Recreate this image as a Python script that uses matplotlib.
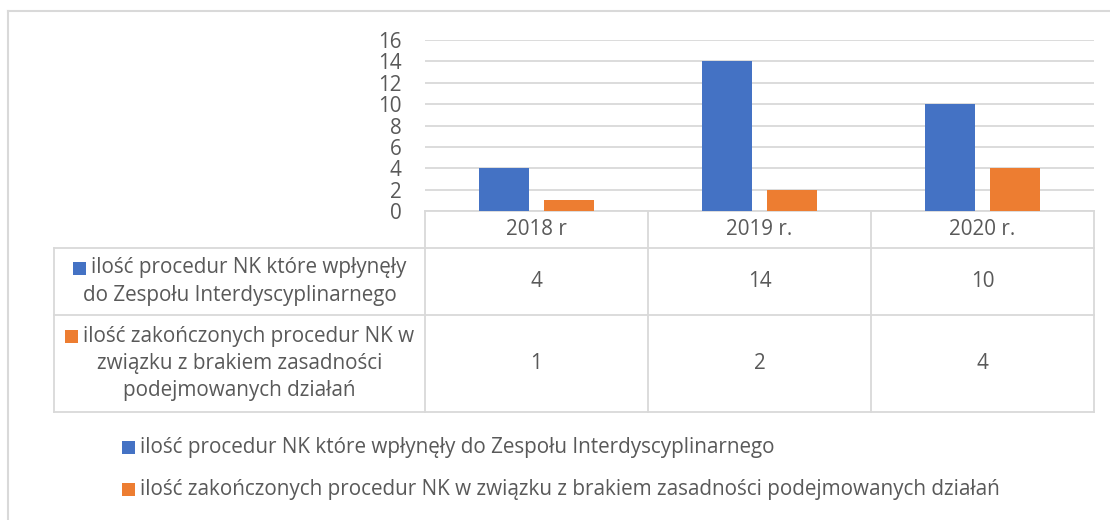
import matplotlib.pyplot as plt
from matplotlib.patches import Rectangle

# dane
categories = ['2018 r', '2019 r.', '2020 r.']
wplynely = [4, 14, 10]
zakonczone = [1, 2, 4]
series_names = ['ilość procedur NK które wpłynęły do Zespołu Interdyscyplinarnego',
                'ilość zakończonych procedur NK w związku z brakiem zasadności podejmowanych działań']
row_labels = [['ilość procedur NK które wpłynęły', 'do Zespołu Interdyscyplinarnego'],
              ['ilość zakończonych procedur NK w', 'związku z brakiem zasadności', 'podejmowanych działań']]
y_ticks = [0, 2, 4, 6, 8, 10, 12, 14, 16]

BLUE = '#4472c4'
ORANGE = '#ed7d31'
GRID = '#d9d9d9'
TXT = '#595959'
FONT = 'Open Sans'
FS = 14.9

plt.rcParams['font.family'] = [FONT, 'DejaVu Sans']

W, H = 1110, 520
fig = plt.figure(figsize=(W / 100, H / 100), dpi=100)

# warstwa do tabeli (współrzędne w pikselach)
lay = fig.add_axes([0, 0, 1, 1])
lay.set_xlim(0, W)
lay.set_ylim(H, 0)
lay.axis('off')

# obszar wykresu
x0, x1, y_top, y_zero = 425, 1094, 40, 211
ax = fig.add_axes([x0 / W, 1 - y_zero / H, (x1 - x0) / W, (y_zero - y_top) / H])
ax.patch.set_alpha(0)
xs = range(len(categories))
bw = 0.224
ax.bar([x - 0.144 for x in xs], wplynely, width=bw, color=BLUE, zorder=3)
ax.bar([x + 0.144 for x in xs], zakonczone, width=bw, color=ORANGE, zorder=3)
ax.set_xlim(-0.5, len(categories) - 0.5)
ax.set_ylim(0, 16)
ax.set_yticks(y_ticks)
ax.set_xticks([])
ax.yaxis.grid(True, color=GRID, lw=1.3)
ax.set_axisbelow(True)
ax.tick_params(axis='y', length=0, pad=17, labelcolor=TXT, labelsize=FS)
for s in ax.spines.values():
    s.set_visible(False)

# ramka całego wykresu
lay.plot([8, W], [11, 11], color=GRID, lw=1.5)
lay.plot([8, 8], [11, H], color=GRID, lw=1.5)

# tabela danych
lab_x0 = 54
row_y = [211, 248, 315, 412]
col_w = (x1 - x0) / len(categories)
col_x = [x0 + i * col_w for i in range(len(categories) + 1)]
lw_t = 1.3
lay.plot([x0, x1], [row_y[0], row_y[0]], color=GRID, lw=lw_t)
for y in row_y[1:]:
    lay.plot([lab_x0, x1], [y, y], color=GRID, lw=lw_t)
for x in col_x:
    lay.plot([x, x], [row_y[0], row_y[-1]], color=GRID, lw=lw_t)
lay.plot([lab_x0, lab_x0], [row_y[1], row_y[-1]], color=GRID, lw=lw_t)

for i, c in enumerate(categories):
    cx = (col_x[i] + col_x[i + 1]) / 2
    lay.text(cx, (row_y[0] + row_y[1]) / 2, c, ha='center', va='center', color=TXT, fontsize=FS)
    for r, vals in enumerate([wplynely, zakonczone]):
        lay.text(cx, (row_y[r + 1] + row_y[r + 2]) / 2, str(vals[i]), ha='center', va='center',
                 color=TXT, fontsize=FS)

# etykiety wierszy z kluczem
label_cx = (lab_x0 + x0) / 2
line_h = 27
key = 13
fig.canvas.draw()
renderer = fig.canvas.get_renderer()
inv = lay.transData.inverted()
for r, (lines, color) in enumerate(zip(row_labels, [BLUE, ORANGE])):
    cy = (row_y[r + 1] + row_y[r + 2]) / 2
    first_y = cy - line_h * (len(lines) - 1) / 2
    for j, line in enumerate(lines):
        ly = first_y + j * line_h
        shift = (key + 6) / 2 if j == 0 else 0
        t = lay.text(label_cx + shift, ly, line, ha='center', va='center', color=TXT, fontsize=FS)
        if j == 0:
            bb = t.get_window_extent(renderer)
            left = inv.transform((bb.x0, bb.y0))[0]
            lay.add_patch(Rectangle((left - key - 5, ly - key / 2), key, key, color=color, lw=0))

# legenda
leg_x, leg_y = 122, [447, 489]
for name, color, y in zip(series_names, [BLUE, ORANGE], leg_y):
    lay.add_patch(Rectangle((leg_x, y - key / 2), key, key, color=color, lw=0))
    lay.text(leg_x + key + 5, y, name, ha='left', va='center', color=TXT, fontsize=FS)

fig.savefig('out.png', dpi=100)
